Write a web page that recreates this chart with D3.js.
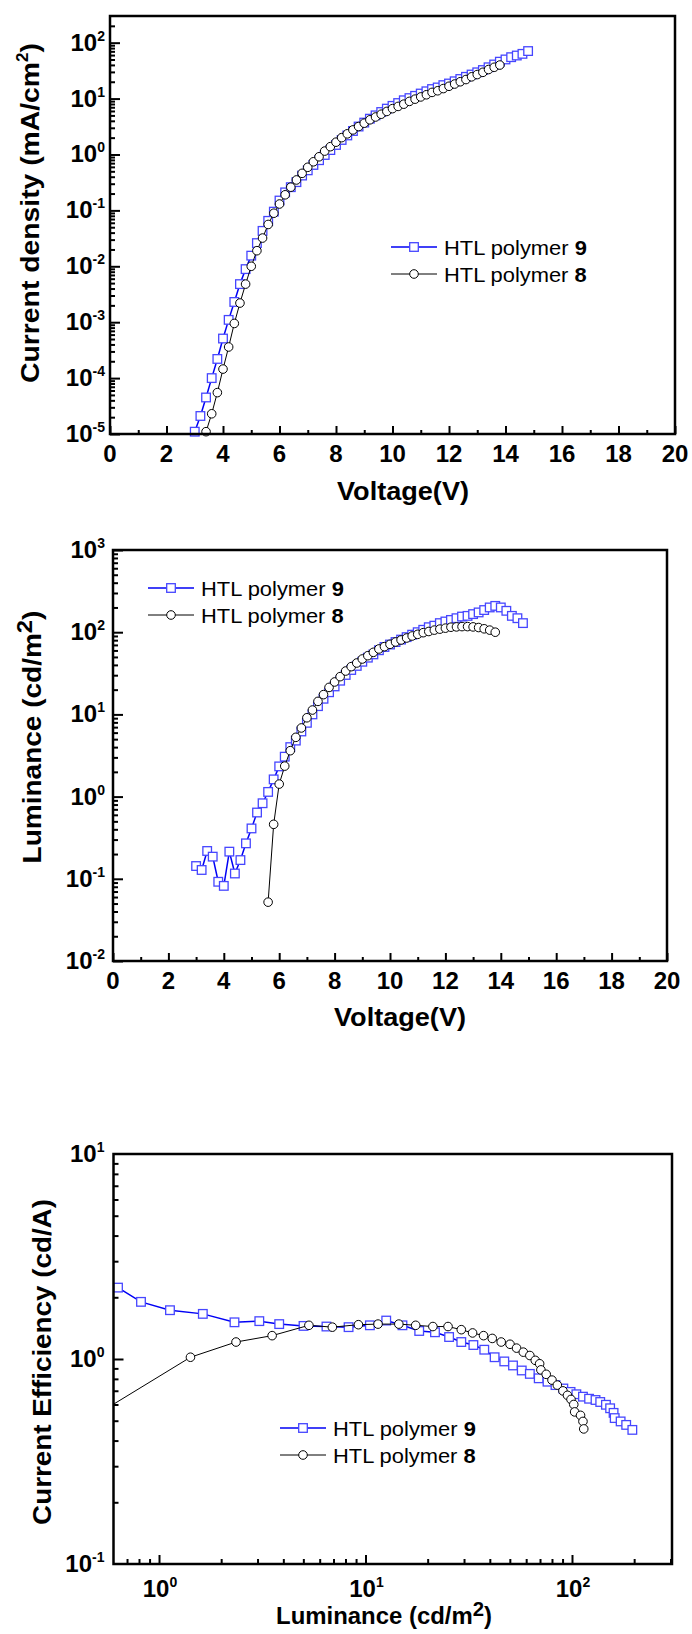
<!DOCTYPE html>
<html>
<head>
<meta charset="utf-8">
<script src="https://cdn.jsdelivr.net/npm/d3@7"></script>
<style>
body { margin: 0; background: #fff; }
svg { display: block; font-family: "Liberation Sans", Arial, sans-serif; }
</style>
</head>
<body>
<svg id="chart" width="692" height="1634"></svg>
<script>
// ---- data ----
// voltage sweep of the polymer 9 device (used in panel 1 and 2)
const volt9 = [3.0,3.2,3.4,3.6,3.8,4.0,4.2,4.4,4.6,4.8,5.0,5.2,5.4,5.6,5.8,6.0,6.2,6.4,6.6,6.8,
  7.0,7.2,7.4,7.6,7.8,8.0,8.2,8.4,8.6,8.8,9.0,9.2,9.4,9.6,9.8,10.0,10.2,10.4,10.6,10.8,
  11.0,11.2,11.4,11.6,11.8,12.0,12.2,12.4,12.6,12.8,13.0,13.2,13.4,13.6,13.8,14.0,14.2,14.4,14.6,14.8];
// current density mA/cm2, polymer 9
const jPoly9 = [1.1e-5,2.1e-5,4.5e-5,1.0e-4,2.2e-4,5.1e-4,1.1e-3,2.3e-3,4.8e-3,8.9e-3,
  1.55e-2,2.6e-2,4.3e-2,6.5e-2,9.5e-2,0.15,0.21,0.26,0.32,0.42,
  0.52,0.65,0.79,0.98,1.2,1.48,1.82,2.19,2.63,3.16,
  3.72,4.37,5.01,5.75,6.61,7.41,8.32,9.33,10.2,11.2,
  12.3,13.5,14.8,15.8,17.4,18.6,20.4,22.4,24.5,26.9,
  29.5,32.4,36.3,40.7,45.7,50.1,55.0,58.9,63.1,70.8];
// polymer 8, current density
const voltJ8 = [3.4,3.6,3.8,4.0,4.2,4.4,4.6,4.8,5.0,5.2,5.4,5.6,5.8,6.0,6.2,6.4,6.6,6.8,7.0,7.2,
  7.4,7.6,7.8,8.0,8.2,8.4,8.6,8.8,9.0,9.2,9.4,9.6,9.8,10.0,10.2,10.4,10.6,10.8,11.0,11.2,
  11.4,11.6,11.8,12.0,12.2,12.4,12.6,12.8,13.0,13.2,13.4,13.6,13.8];
const jPoly8 = [1.1e-5,2.3e-5,5.5e-5,1.45e-4,3.6e-4,9.5e-4,2.2e-3,4.8e-3,1.0e-2,1.9e-2,
  3.2e-2,5.6e-2,8.9e-2,0.13,0.19,0.26,0.35,0.46,0.59,0.74,
  0.91,1.15,1.38,1.66,2.0,2.34,2.75,3.16,3.63,4.17,
  4.68,5.25,5.89,6.61,7.24,7.94,8.91,9.77,10.7,11.7,
  12.9,13.8,15.1,16.6,18.2,20.0,21.9,24.5,26.9,29.5,
  33.1,36.3,39.8];
// luminance cd/m2, polymer 9 (same sweep as volt9)
const lumPoly9 = [0.143,0.128,0.218,0.186,0.092,0.082,0.214,0.116,0.169,0.27,
  0.41,0.64,0.83,1.14,1.62,2.33,3.06,4.0,4.8,6.2,
  7.9,10.0,12.6,15.5,18.6,21.9,25.7,30.2,34.7,38.9,
  43.7,49.0,53.7,60.3,66.1,70.8,75.9,81.3,87.1,93.3,
  100,107,115,120,129,135,141,148,155,158,
  166,174,186,200,209,200,182,158,148,129];
// luminance, polymer 8
const voltL8 = [5.6,5.8,6.0,6.2,6.4,6.6,6.8,7.0,7.2,7.4,7.6,7.8,8.0,8.2,8.4,8.6,8.8,9.0,9.2,9.4,
  9.6,9.8,10.0,10.2,10.4,10.6,10.8,11.0,11.2,11.4,11.6,11.8,12.0,12.2,12.4,12.6,12.8,13.0,13.2,13.4,
  13.6,13.8];
const lumPoly8 = [0.052,0.46,1.42,2.35,3.62,5.26,6.84,9.1,11.3,14.4,
  17.4,21.3,24.8,28.8,33.7,38.1,42.2,47.2,51.8,56.9,
  62.5,66.7,71.2,76.0,80.4,85.0,89.9,94.2,98.7,102,
  106,109,112,115,116,117,117,116,114,110,
  106,100];
// current efficiency vs luminance
const effLum9 = [0.633,0.818,1.13,1.63,2.32,3.06,3.82,5.01,6.47,8.28,
  10.5,12.6,15.1,18.2,21.7,25.4,29.1,33.3,37.6,42.2,
  47.0,51.8,57.1,62.5,69.0,76.1,83.2,90.8,98.4,105,
  113,121,130,137,146,153,159,161,172,183,196];
const effPoly9 = [2.23,1.90,1.73,1.66,1.51,1.53,1.48,1.45,1.44,1.43,
  1.46,1.54,1.46,1.37,1.35,1.28,1.21,1.17,1.11,1.02,
  0.973,0.93,0.879,0.846,0.805,0.775,0.746,0.718,0.691,0.673,
  0.655,0.64,0.631,0.617,0.598,0.575,0.546,0.515,0.496,0.477,0.451];
const effLum8 = [0.46,1.42,2.36,3.53,5.32,6.91,9.24,11.5,14.5,17.5,
  21.2,25.1,29.1,33.0,37.3,41.1,45.4,50.1,53.9,58.1,
  62.5,66.4,69.7,70.7,75.0,80.0,84.9,90.4,95.1,98.9,
  102,103,110,113,114];
const effPoly8 = [0.51,1.02,1.21,1.30,1.46,1.43,1.47,1.48,1.48,1.46,
  1.44,1.44,1.39,1.34,1.30,1.26,1.21,1.18,1.13,1.08,
  1.04,0.985,0.948,0.885,0.842,0.789,0.746,0.699,0.665,0.635,
  0.60,0.552,0.531,0.496,0.456];

const voltTicks = [0,2,4,6,8,10,12,14,16,18,20];
const voltMinor = [1,3,5,7,9,11,13,15,17,19];
const legendNames = ["HTL polymer ", "HTL polymer "];
const legendNums = ["9", "8"];

// ---- drawing ----
const svg = d3.select("#chart");
const defs = svg.append("defs");
const BLUE_LINE = "#0000f5", BLUE_MARK = "#4646ff";
let clipCount = 0;

function logMinors(lo, hi) {
  const out = [];
  for (let d = Math.floor(Math.log10(lo)); d <= Math.ceil(Math.log10(hi)); d++)
    for (let k = 2; k <= 9; k++) {
      const v = k * Math.pow(10, d);
      if (v > lo && v < hi) out.push(v);
    }
  return out;
}

function makePanel(box, x, y) {
  const id = "clip" + (++clipCount);
  defs.append("clipPath").attr("id", id).append("rect")
    .attr("x", box.left).attr("y", box.top)
    .attr("width", box.right - box.left).attr("height", box.bottom - box.top);
  return { g: svg.append("g"), box, x, y, clip: `url(#${id})` };
}

function ticks(p, axisFn, scale, values, size, pos) {
  const a = p.g.append("g").attr("transform", pos)
    .call(axisFn(scale).tickValues(values).tickSize(size).tickFormat(""));
  a.select(".domain").remove();
  a.selectAll(".tick line").attr("stroke", "#000").attr("stroke-width", 2);
}

function powLabel(g, x, y, exp, anchor) {
  const t = g.append("text").attr("x", x).attr("y", y)
    .attr("text-anchor", anchor).attr("font-weight", "bold").attr("font-size", 24);
  t.append("tspan").text("10");
  t.append("tspan").attr("dy", -10).attr("font-size", 14).text(exp);
}

function frame(p) {
  const b = p.box;
  p.g.append("rect").attr("x", b.left).attr("y", b.top)
    .attr("width", b.right - b.left).attr("height", b.bottom - b.top)
    .attr("fill", "none").attr("stroke", "#000").attr("stroke-width", 2.5);
}

function series(p, xs, ys, kind) {
  const pts = xs.map((v, i) => [v, ys[i]]);
  const line = d3.line().x(d => p.x(d[0])).y(d => p.y(d[1]));
  p.g.append("path").datum(pts).attr("d", line).attr("fill", "none")
    .attr("clip-path", p.clip)
    .attr("stroke", kind === "sq" ? BLUE_LINE : "#000")
    .attr("stroke-width", kind === "sq" ? 1.5 : 1);
  const [x0, x1] = p.x.domain(), [y0, y1] = p.y.domain();
  const inside = pts.filter(d => d[0] >= x0 && d[0] <= x1 && d[1] >= y0 && d[1] <= y1);
  if (kind === "sq") {
    p.g.selectAll(null).data(inside).join("rect")
      .attr("x", d => p.x(d[0]) - 4.3).attr("y", d => p.y(d[1]) - 4.3)
      .attr("width", 8.6).attr("height", 8.6)
      .attr("fill", "#fff").attr("stroke", BLUE_MARK).attr("stroke-width", 1.3);
  } else {
    p.g.selectAll(null).data(inside).join("circle")
      .attr("cx", d => p.x(d[0])).attr("cy", d => p.y(d[1])).attr("r", 4.3)
      .attr("fill", "#fff").attr("stroke", "#000").attr("stroke-width", 1);
  }
}

function legend(g, lx, ly) {
  [0, 1].forEach(i => {
    const y = ly + i * 27;
    const kind = i === 0 ? "sq" : "ci";
    g.append("line").attr("x1", lx).attr("x2", lx + 46).attr("y1", y).attr("y2", y)
      .attr("stroke", kind === "sq" ? BLUE_LINE : "#000").attr("stroke-width", kind === "sq" ? 1.6 : 1);
    if (kind === "sq")
      g.append("rect").attr("x", lx + 23 - 4.3).attr("y", y - 4.3).attr("width", 8.6).attr("height", 8.6)
        .attr("fill", "#fff").attr("stroke", BLUE_MARK).attr("stroke-width", 1.3);
    else
      g.append("circle").attr("cx", lx + 23).attr("cy", y).attr("r", 4.3)
        .attr("fill", "#fff").attr("stroke", "#000");
    const t = g.append("text").attr("font-size", 21).attr("y", 0);
    t.append("tspan").text(legendNames[i]);
    t.append("tspan").attr("font-weight", "bold").text(legendNums[i]);
    const w = t.node().getBBox().width;
    t.attr("transform", `translate(${lx + 53},${y + 7.5}) scale(${143 / w},1)`);
  });
}

// parts: [text, "sup"|"big"|undefined]
function title(g, parts, fs, cx, cy, len, rotate) {
  const t = g.append("text").attr("font-size", fs).attr("font-weight", "bold")
    .attr("text-anchor", "middle");
  let shift = 0;
  parts.forEach(([s, mode]) => {
    const sp = t.append("tspan").text(s);
    if (mode === "sup") { sp.attr("font-size", fs * 0.6).attr("dy", -fs * 0.42 - shift); shift = -fs * 0.42; }
    else if (mode === "big") { sp.attr("font-size", fs * 0.85).attr("dy", -fs * 0.34 - shift); shift = -fs * 0.34; }
    else { if (shift) sp.attr("dy", -shift); shift = 0; }
  });
  const w = t.node().getBBox().width;
  t.attr("transform", `translate(${cx},${cy})` + (rotate ? " rotate(-90)" : "") + ` scale(${len / w},1)`);
}

// ---------- panel 1: J-V ----------
{
  const box = { left: 110, right: 675, top: 16, bottom: 434 };
  const x = d3.scaleLinear().domain([0, 20]).range([box.left, box.right]);
  const y = d3.scaleLog().domain([1e-5, 300]).range([box.bottom, box.top]);
  const p = makePanel(box, x, y);
  ticks(p, d3.axisLeft, y, logMinors(1e-5, 300), -5, `translate(${box.left},0)`);
  ticks(p, d3.axisLeft, y, [1e-5,1e-4,1e-3,1e-2,1e-1,1,10,100], -10, `translate(${box.left},0)`);
  ticks(p, d3.axisBottom, x, voltMinor, -4, `translate(0,${box.bottom})`);
  ticks(p, d3.axisBottom, x, voltTicks, -8, `translate(0,${box.bottom})`);
  [-5,-4,-3,-2,-1,0,1,2].forEach(e => powLabel(p.g, box.left - 5, y(Math.pow(10, e)) + 8, String(e), "end"));
  voltTicks.forEach(v => p.g.append("text").attr("x", x(v)).attr("y", box.bottom + 28)
    .attr("text-anchor", "middle").attr("font-weight", "bold").attr("font-size", 24).text(v));
  series(p, volt9, jPoly9, "sq");
  series(p, voltJ8, jPoly8, "ci");
  frame(p);
  legend(p.g, 391, 247);
  title(p.g, [["Current density (mA/cm"], ["2", "sup"], [")"]], 26, 38.5, 213, 340, true);
  title(p.g, [["Voltage(V)"]], 26, 403, 500, 132, false);
}

// ---------- panel 2: L-V ----------
{
  const box = { left: 113, right: 667, top: 550, bottom: 961 };
  const x = d3.scaleLinear().domain([0, 20]).range([box.left, box.right]);
  const y = d3.scaleLog().domain([1e-2, 1e3]).range([box.bottom, box.top]);
  const p = makePanel(box, x, y);
  ticks(p, d3.axisLeft, y, logMinors(1e-2, 1e3), -5, `translate(${box.left},0)`);
  ticks(p, d3.axisLeft, y, [1e-2,1e-1,1,10,100,1000], -10, `translate(${box.left},0)`);
  ticks(p, d3.axisBottom, x, voltMinor, -4, `translate(0,${box.bottom})`);
  ticks(p, d3.axisBottom, x, voltTicks, -8, `translate(0,${box.bottom})`);
  [-2,-1,0,1,2,3].forEach(e => powLabel(p.g, box.left - 8, y(Math.pow(10, e)) + 8, String(e), "end"));
  voltTicks.forEach(v => p.g.append("text").attr("x", x(v)).attr("y", box.bottom + 28)
    .attr("text-anchor", "middle").attr("font-weight", "bold").attr("font-size", 24).text(v));
  series(p, volt9, lumPoly9, "sq");
  series(p, voltL8, lumPoly8, "ci");
  frame(p);
  legend(p.g, 148, 588);
  title(p.g, [["Luminance (cd/m"], ["2", "big"], [")"]], 26, 41, 737, 253, true);
  title(p.g, [["Voltage(V)"]], 26, 400, 1026, 132, false);
}

// ---------- panel 3: efficiency-L ----------
{
  const box = { left: 113.5, right: 672, top: 1154, bottom: 1564 };
  const x = d3.scaleLog().domain([0.602, 305]).range([box.left, box.right]);
  const y = d3.scaleLog().domain([0.1, 10]).range([box.bottom, box.top]);
  const p = makePanel(box, x, y);
  ticks(p, d3.axisLeft, y, logMinors(0.1, 10), -5, `translate(${box.left},0)`);
  ticks(p, d3.axisLeft, y, [1], -10, `translate(${box.left},0)`);
  ticks(p, d3.axisBottom, x, logMinors(0.602, 305), -5, `translate(0,${box.bottom})`);
  ticks(p, d3.axisBottom, x, [1, 10, 100], -9, `translate(0,${box.bottom})`);
  [-1,0,1].forEach(e => powLabel(p.g, box.left - 9, y(Math.pow(10, e)) + 8, String(e), "end"));
  [0,1,2].forEach(e => powLabel(p.g, x(Math.pow(10, e)) + 1, box.bottom + 33, String(e), "middle"));
  series(p, effLum9, effPoly9, "sq");
  series(p, effLum8, effPoly8, "ci");
  frame(p);
  legend(p.g, 280, 1428);
  title(p.g, [["Current Efficiency (cd/A)"]], 26, 51, 1362, 326, true);
  title(p.g, [["Luminance (cd/m"], ["2", "big"], [")"]], 24, 384, 1624, 216, false);
}
</script>
</body>
</html>
